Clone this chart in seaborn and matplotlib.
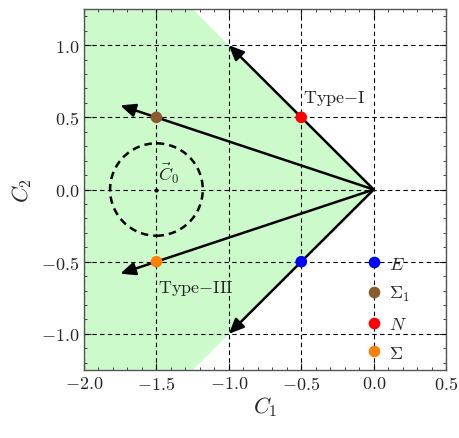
import numpy as np
import pandas as pd
import matplotlib
matplotlib.use("Agg")
import matplotlib.pyplot as plt
import seaborn as sns
from matplotlib.patches import Polygon, Circle

# critical points
pt_tex = [r"$E$", r"$\Sigma_1$", r"$N$", r"$\Sigma$"]
pt_x = [-0.5, -1.5, -0.5, -1.5]
pt_y = [-0.5, 0.5, 0.5, -0.5]
pt_colors = ["#0000ff", "#8c5a30", "#ff0000", "#ff8000"]

# arrows from the origin
arrow_x = [-1.0, -1.75, -1.75, -1.0]
arrow_y = [1.0, 0.583, -0.583, -1.0]

# ticks
xticks = [-2.0, -1.5, -1.0, -0.5, 0.0, 0.5]
yticks = [-1.0, -0.5, 0.0, 0.5, 1.0]

sns.set_style("ticks")
plt.rcParams["font.family"] = ["cmr10", "DejaVu Serif"]
plt.rcParams["mathtext.fontset"] = "cm"
plt.rcParams["axes.formatter.use_mathtext"] = True

fig = plt.figure(figsize=(4.59, 4.39), dpi=100)
ax = fig.add_axes([0.183, 0.155, 0.789, 0.822])
ax.set_xlim(-2.0, 0.5)
ax.set_ylim(-1.25, 1.25)

# allowed region |C2| < -C1
ax.add_patch(Polygon([(0, 0), (-1.25, 1.25), (-2, 1.25), (-2, -1.25), (-1.25, -1.25)],
                     closed=True, facecolor="#ccfacb", edgecolor="none", zorder=0))

for v in xticks:
    ax.axvline(v, color="black", ls=(0, (4, 3)), lw=0.8, zorder=1)
for v in yticks:
    ax.axhline(v, color="black", ls=(0, (4, 3)), lw=0.8, zorder=1)

ax.add_patch(Circle((-1.5, 0.0), 0.32, fill=False, ls=(0, (3, 2)), lw=1.8,
                    color="black", zorder=2))
ax.plot([-1.5], [0.0], marker="o", ms=2, color="black", zorder=2)

for ex, ey in zip(arrow_x, arrow_y):
    ax.annotate("", xy=(ex, ey), xytext=(0, 0),
                arrowprops=dict(arrowstyle="-|>,head_length=0.5,head_width=0.22",
                                color="black", lw=1.8,
                                mutation_scale=18, shrinkA=0, shrinkB=0),
                zorder=3)

df = pd.DataFrame({"x": pt_x, "y": pt_y, "name": pt_tex})
sns.scatterplot(data=df, x="x", y="y", hue="name", palette=dict(zip(pt_tex, pt_colors)),
                s=70, edgecolor="none", zorder=4, ax=ax)

ax.text(-0.49, 0.57, "Type$-$I", fontsize=13, ha="left", va="bottom")
ax.text(-1.49, -0.61, "Type$-$III", fontsize=13, ha="left", va="top")
ax.text(-1.49, 0.12, r"$\vec{C}_0$", fontsize=13, ha="left", va="center")

leg = ax.legend(loc="upper left", bbox_to_anchor=(0.752, 0.342), frameon=False,
                handletextpad=0.3, labelspacing=0.7, fontsize=13,
                handlelength=1.0, borderpad=0, markerscale=1.0)

ax.set_xticks(xticks)
ax.set_yticks(yticks)
ax.xaxis.set_minor_locator(matplotlib.ticker.MultipleLocator(0.1))
ax.yaxis.set_minor_locator(matplotlib.ticker.MultipleLocator(0.1))
ax.tick_params(which="both", direction="in", top=True, right=True, labelsize=13)
ax.tick_params(which="major", length=5)
ax.tick_params(which="minor", length=2.5)
ax.xaxis.set_major_formatter(matplotlib.ticker.FuncFormatter(lambda v, p: f"${v:.1f}$"))
ax.yaxis.set_major_formatter(matplotlib.ticker.FuncFormatter(lambda v, p: f"${v:.1f}$"))
for s in ax.spines.values():
    s.set_linewidth(1.0)
    s.set_color("#555555")

ax.set_xlabel(r"$C_1$", fontsize=16, labelpad=2)
ax.set_ylabel(r"$C_2$", fontsize=16, labelpad=5)

fig.savefig("out.png", dpi=100)
